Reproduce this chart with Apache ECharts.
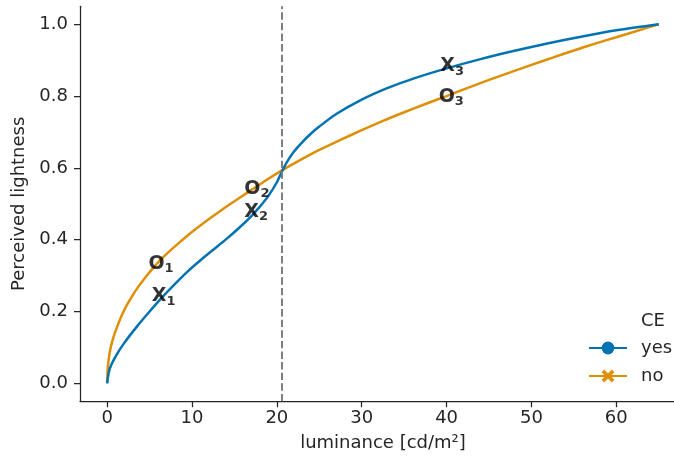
<!DOCTYPE html>
<html>
<head>
<meta charset="utf-8">
<script src="https://cdn.jsdelivr.net/npm/echarts@6/dist/echarts.min.js"></script>
<style>
html,body{margin:0;padding:0;background:#fff;}
#chart{width:674px;height:460px;}
</style>
</head>
<body>
<div id="chart"></div>
<script>
// ---- data ----
const xTicks = [0, 10, 20, 30, 40, 50, 60];
const yTicks = [0.0, 0.2, 0.4, 0.6, 0.8, 1.0];

// CE = yes (blue)
const yesX = [0, 0.3, 1, 2, 3.5, 5, 6.5, 8, 9.5, 11, 12.5, 14, 15.5, 17, 18, 19, 20, 20.6, 21.2, 22, 23, 24, 25, 27, 30, 33, 36, 40, 44, 48, 52, 56, 60, 65];
const yesY = [0, 0.04, 0.075, 0.112, 0.158, 0.2, 0.24, 0.277, 0.312, 0.343, 0.372, 0.401, 0.432, 0.466, 0.492, 0.522, 0.56, 0.59, 0.617, 0.645, 0.672, 0.695, 0.715, 0.75, 0.79, 0.822, 0.848, 0.877, 0.903, 0.926, 0.947, 0.966, 0.983, 1.0];

// CE = no (orange)
const noX = [0, 0.05, 0.15, 0.33, 0.6, 0.9, 1.3, 1.7, 2.3, 3, 3.7, 4.5, 5.3, 6.2, 7.3, 8.5, 9.7, 10.9, 12.2, 13.5, 15, 16.4, 18.5, 20.6, 23, 25, 27.5, 30, 32.5, 35, 37.5, 40, 42.5, 45, 47.5, 50, 52.5, 55, 57.5, 60, 62.5, 65];
const noY = [0, 0.035, 0.06, 0.09, 0.117, 0.14, 0.165, 0.188, 0.217, 0.245, 0.27, 0.295, 0.318, 0.342, 0.367, 0.392, 0.416, 0.438, 0.461, 0.483, 0.507, 0.529, 0.562, 0.593, 0.625, 0.65, 0.678, 0.705, 0.731, 0.755, 0.778, 0.80, 0.823, 0.845, 0.866, 0.887, 0.907, 0.927, 0.946, 0.964, 0.982, 1.0];

// annotation labels
const annLetters = ['X', 'X', 'X', 'O', 'O', 'O'];
const annSubs = ['1', '2', '3', '1', '2', '3'];
const annX = [6.3, 17.2, 40.3, 6.0, 17.3, 40.2];
const annY = [0.245, 0.48, 0.885, 0.335, 0.545, 0.80];

const dashedX = 20.55;
const seriesNames = ['yes', 'no'];
const legendTitle = 'CE';
const xName = 'luminance [cd/m²]';
const yName = 'Perceived lightness';

// ---- chart ----
const ink = '#262626';
const blue = '#0173b2';
const orange = '#de8f05';
const font = 'DejaVu Sans';
const xMarker = 'path://M2,0 L5,3 L8,0 L10,2 L7,5 L10,8 L8,10 L5,7 L2,10 L0,8 L3,5 L0,2 Z';

const chart = echarts.init(document.getElementById('chart'), null, {renderer: 'canvas'});

const zip = (xs, ys) => xs.map((x, i) => [x, ys[i]]);

const axisCommon = {
  axisLine: {show: true, onZero: false, lineStyle: {color: ink, width: 1.25}},
  axisTick: {show: true, length: 6, lineStyle: {color: ink, width: 1.25}},
  splitLine: {show: false}
};

chart.setOption({
  animation: false,
  backgroundColor: '#fff',
  textStyle: {fontFamily: font},
  grid: {left: 80, right: 0, top: 6.3, bottom: 58.7},
  xAxis: Object.assign({}, axisCommon, {
    type: 'value', min: -3.2, max: 66.8,
    name: xName, nameLocation: 'middle', nameGap: 33,
    nameTextStyle: {color: ink, fontFamily: font, fontSize: 18, padding: [0, 0, 0, 12]},
    axisTick: Object.assign({}, axisCommon.axisTick, {customValues: xTicks}),
    axisLabel: {customValues: xTicks, color: ink, fontFamily: font, fontSize: 18, margin: 8}
  }),
  yAxis: Object.assign({}, axisCommon, {
    type: 'value', min: -0.05, max: 1.05,
    name: yName, nameLocation: 'middle', nameGap: 43, nameRotate: 90,
    nameTextStyle: {color: ink, fontFamily: font, fontSize: 18},
    axisTick: Object.assign({}, axisCommon.axisTick, {customValues: yTicks}),
    axisLabel: {customValues: yTicks, color: ink, fontFamily: font, fontSize: 18, margin: 12,
      formatter: v => v.toFixed(1)}
  }),
  legend: {
    data: seriesNames,
    orient: 'vertical',
    left: 583, top: 334,
    itemWidth: 38, itemHeight: 16, itemGap: 10,
    textStyle: {color: ink, fontFamily: font, fontSize: 18, padding: [0, 0, 0, 9]}
  },
  graphic: [{
    type: 'text', x: 653, y: 321,
    style: {text: legendTitle, fill: ink, font: '18px "DejaVu Sans"', textAlign: 'center', textVerticalAlign: 'middle'}
  }],
  series: [
    {
      name: seriesNames[0], type: 'line', data: zip(yesX, yesY),
      smooth: 0.3, showSymbol: false, symbol: 'circle', symbolSize: 12,
      lineStyle: {color: blue, width: 2.5}, itemStyle: {color: blue},
      z: 3,
      markLine: {
        silent: true, symbol: 'none', label: {show: false},
        lineStyle: {color: '#7f7f7f', width: 2, type: [7.4, 3.2]},
        data: [{xAxis: dashedX}]
      }
    },
    {
      name: seriesNames[1], type: 'line', data: zip(noX, noY),
      smooth: 0.3, showSymbol: false, symbol: xMarker, symbolSize: 13,
      lineStyle: {color: orange, width: 2.5}, itemStyle: {color: orange},
      z: 2
    },
    {
      type: 'scatter', silent: true, z: 10,
      symbolSize: 0,
      data: annX.map((x, i) => ({value: [x, annY[i]], letter: annLetters[i], sub: annSubs[i]})),
      label: {
        show: true, position: 'inside', offset: [3, 6],
        color: '#000', textBorderWidth: 0, textShadowBlur: 0,
        formatter: p => '{m|' + p.data.letter + '}{s|' + p.data.sub + '}',
        rich: {
          m: {fontFamily: font, fontWeight: 'bold', fontSize: 19, color: '#000', textBorderWidth: 0, padding: [0, 0, 10, 0]},
          s: {fontFamily: font, fontWeight: 'bold', fontSize: 13, color: '#000', textBorderWidth: 0}
        }
      }
    }
  ]
});
</script>
</body>
</html>
